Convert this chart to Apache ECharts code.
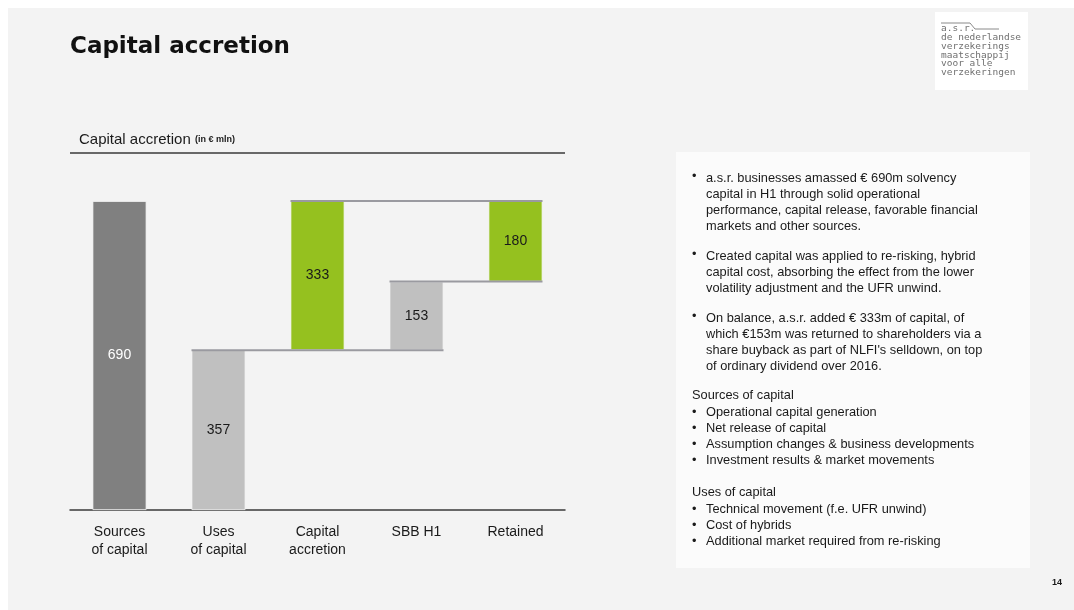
<!DOCTYPE html>
<html>
<head>
<meta charset="utf-8">
<title>Capital accretion</title>
<script src="https://cdn.jsdelivr.net/npm/echarts@6/dist/echarts.min.js"></script>
<style>
  html, body { margin: 0; padding: 0; background: #ffffff; }
  #chart { width: 1074px; height: 610px; }
</style>
</head>
<body>
<div id="chart"></div>
<script>
// Waterfall of capital accretion, € mln
const categories = ['Sources\nof capital', 'Uses\nof capital', 'Capital\naccretion', 'SBB H1', 'Retained'];
const amounts = [690, 357, 333, 153, 180];
// level each bar starts from
const starts = [0, 0, 357, 357, 510];
// connector lines: [from category, to category, level]
const connectors = [[1, 3, 357], [2, 4, 690], [3, 4, 510]];

const bulletParas = [
  'a.s.r. businesses amassed € 690m solvency\ncapital in H1 through solid operational\nperformance, capital release, favorable financial\nmarkets and other sources.',
  'Created capital was applied to re-risking, hybrid\ncapital cost, absorbing the effect from the lower\nvolatility adjustment and the UFR unwind.',
  'On balance, a.s.r. added € 333m of capital, of\nwhich €153m was returned to shareholders via a\nshare buyback as part of NLFI\'s selldown, on top\nof ordinary dividend over 2016.'
];
const sourcesHeading = 'Sources of capital';
const sourcesItems = ['Operational capital generation', 'Net release of capital', 'Assumption changes & business developments', 'Investment results & market movements'];
const usesHeading = 'Uses of capital';
const usesItems = ['Technical movement (f.e. UFR unwind)', 'Cost of hybrids', 'Additional market required from re-risking'];

const palette = ['#808080', '#c0c0c0', '#95c11f', '#c0c0c0', '#95c11f'];
const labelColors = ['#ffffff', '#1a1a1a', '#1a1a1a', '#1a1a1a', '#1a1a1a'];
const FONT = '"Liberation Sans", Arial, sans-serif';
const BAR_W = 54;

const chart = echarts.init(document.getElementById('chart'), null, { renderer: 'canvas' });

// side text block
const textEls = [];
const tx = 706, bx = 692;
const LH = 16;
const bodyFont = '12.8px ' + FONT;
let ty = 170;
bulletParas.forEach(p => {
  const n = p.split('\n').length;
  textEls.push({ type: 'text', left: bx, top: ty, style: { text: '•', font: bodyFont, fill: '#1a1a1a' } });
  textEls.push({ type: 'text', left: tx, top: ty, style: { text: p, font: bodyFont, fill: '#1a1a1a', lineHeight: LH } });
  ty += n * LH + 14;
});
function addList(startY, heading, items) {
  let y = startY;
  textEls.push({ type: 'text', left: bx, top: y, style: { text: heading, font: bodyFont, fill: '#1a1a1a' } });
  y += LH + 1;
  items.forEach(it => {
    textEls.push({ type: 'text', left: bx, top: y, style: { text: '•', font: bodyFont, fill: '#1a1a1a' } });
    textEls.push({ type: 'text', left: tx, top: y, style: { text: it, font: bodyFont, fill: '#1a1a1a' } });
    y += LH;
  });
}
addList(389, sourcesHeading, sourcesItems);
addList(486, usesHeading, usesItems);

const option = {
  backgroundColor: '#ffffff',
  animation: false,
  grid: { left: 70, right: 509, top: 201, bottom: 100, containLabel: false },
  xAxis: {
    type: 'category',
    data: categories,
    axisLine: { lineStyle: { color: '#3a3a3a', width: 1.5 } },
    axisTick: { show: false },
    axisLabel: { color: '#1a1a1a', fontSize: 14, fontFamily: FONT, margin: 13, lineHeight: 18, interval: 0 }
  },
  yAxis: { type: 'value', min: 0, max: 690, show: false },
  graphic: [
    { type: 'rect', z: -10, shape: { x: 8, y: 8, width: 1066, height: 602 }, style: { fill: '#f3f3f3' } },
    { type: 'text', left: 70, top: 36, style: { text: 'Capital accretion', font: 'bold 23px "DejaVu Sans", ' + FONT, fill: '#111' } },
    // logo
    { type: 'rect', z: -5, shape: { x: 935, y: 12, width: 93, height: 78 }, style: { fill: '#ffffff' } },
    { type: 'polyline', shape: { points: [[941, 23], [970, 23], [975, 29], [999, 29]] }, style: { stroke: '#8a8a8a', lineWidth: 1, fill: null } },
    { type: 'text', left: 941, top: 24, style: { text: 'a.s.r.\nde nederlandse\nverzekerings\nmaatschappij\nvoor alle\nverzekeringen', font: '9.5px "DejaVu Sans Mono", monospace', fill: '#707070', lineHeight: 8.7 } },
    // chart header
    { type: 'text', left: 79, top: 132, style: { rich: { a: { fontSize: 15, fontFamily: FONT, fill: '#1a1a1a' }, b: { fontSize: 9, fontWeight: 'bold', fontFamily: FONT, fill: '#1a1a1a' } }, text: '{a|Capital accretion }{b|(in € mln)}' } },
    { type: 'line', shape: { x1: 70, y1: 153, x2: 565, y2: 153 }, style: { stroke: '#3a3a3a', lineWidth: 1.5 } },
    // side panel
    { type: 'rect', z: -5, shape: { x: 676, y: 152, width: 354, height: 416 }, style: { fill: '#fbfbfb' } },
    { type: 'group', children: textEls },
    { type: 'text', left: 1052, top: 578, style: { text: '14', font: 'bold 9px ' + FONT, fill: '#1a1a1a' } }
  ],
  series: [
    {
      type: 'bar', stack: 'wf', barWidth: BAR_W, silent: true,
      itemStyle: { color: 'transparent' },
      data: starts
    },
    {
      type: 'bar', stack: 'wf', barWidth: BAR_W,
      data: amounts.map((v, i) => ({
        value: v,
        itemStyle: { color: palette[i], borderColor: '#f8f8f8', borderWidth: 0.8 },
        label: { color: labelColors[i] }
      })),
      label: { show: true, position: 'inside', fontSize: 14, fontFamily: FONT, formatter: '{c}' }
    },
    {
      type: 'custom', z: 5, silent: true,
      data: connectors,
      encode: { x: 0, y: 2 },
      renderItem: function (params, api) {
        const a = api.coord([api.value(0), api.value(2)]);
        const b = api.coord([api.value(1), api.value(2)]);
        return {
          type: 'line',
          shape: { x1: a[0] - BAR_W / 2, y1: a[1], x2: b[0] + BAR_W / 2, y2: b[1] },
          style: { stroke: '#9a9aa0', lineWidth: 2 }
        };
      }
    }
  ]
};
chart.setOption(option);
</script>
</body>
</html>
